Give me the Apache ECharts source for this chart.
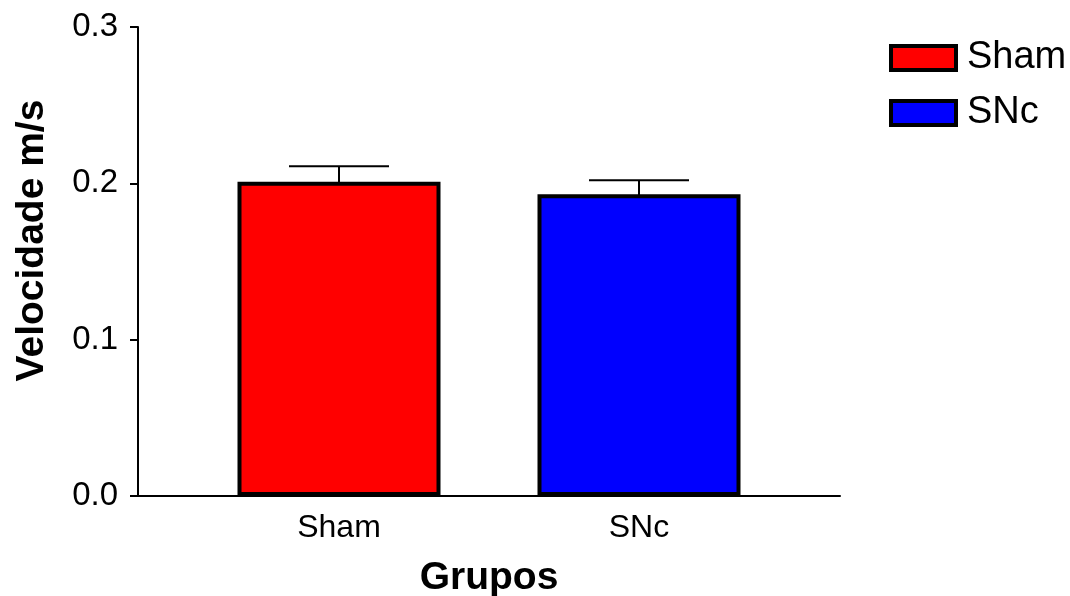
<!DOCTYPE html>
<html>
<head>
<meta charset="utf-8">
<script src="https://cdn.jsdelivr.net/npm/echarts@6/dist/echarts.min.js"></script>
<style>
html,body{margin:0;padding:0;background:#fff;}
#chart{width:1070px;height:596px;}
</style>
</head>
<body>
<div id="chart"></div>
<script>
const categories = ['Sham', 'SNc'];
const means = [0.201, 0.193];
const sems = [0.010, 0.009];
const barColors = ['#ff0000', '#0000ff'];
const yMin = 0, yMax = 0.3, yStep = 0.1;

const FONT = '"Liberation Sans", Arial, sans-serif';
const chart = echarts.init(document.getElementById('chart'), null, {renderer: 'canvas'});

const barSeries = categories.map((c, i) => ({
  name: c,
  type: 'bar',
  barWidth: 203,
  barGap: '-100%',
  data: [[i, means[i]]],
  itemStyle: {color: barColors[i], borderColor: '#000', borderWidth: 4},
  emphasis: {disabled: true},
  z: 2
}));

const errSeries = {
  type: 'custom',
  z: 3,
  silent: true,
  data: categories.map((c, i) => [i, means[i], means[i] + sems[i]]),
  renderItem: function (params, api) {
    const base = api.coord([api.value(0), api.value(1)]);
    const top = api.coord([api.value(0), api.value(2)]);
    const half = 50;
    const style = {stroke: '#000', lineWidth: 2};
    return {
      type: 'group',
      children: [
        {type: 'line', shape: {x1: base[0], y1: base[1] + 1, x2: top[0], y2: top[1]}, style: style},
        {type: 'line', shape: {x1: top[0] - half, y1: top[1], x2: top[0] + half, y2: top[1]}, style: style}
      ]
    };
  }
};

chart.setOption({
  animation: false,
  backgroundColor: '#fff',
  textStyle: {fontFamily: FONT},
  grid: {left: 138, right: 230, top: 27, bottom: 100, containLabel: false, outerBoundsMode: 'none'},
  legend: {
    orient: 'vertical',
    left: 884,
    top: 32,
    itemWidth: 65,
    itemHeight: 24,
    itemGap: 13,
    icon: 'rect',
    selectedMode: false,
    itemStyle: {borderColor: '#000', borderWidth: 4},
    textStyle: {fontSize: 38, color: '#000', fontFamily: FONT, lineHeight: 38, padding: [4, 0, 0, 6]},
    data: categories
  },
  xAxis: {
    type: 'value',
    min: -0.67,
    max: 1.67,
    name: 'Grupos',
    nameLocation: 'middle',
    nameGap: 63,
    nameTextStyle: {fontSize: 39, fontWeight: 'bold', color: '#000', fontFamily: FONT},
    axisLine: {show: true, onZero: false, lineStyle: {color: '#000', width: 2}},
    axisTick: {show: false},
    splitLine: {show: false},
    axisLabel: {
      customValues: [0, 1],
      formatter: v => categories[Math.round(v)],
      fontSize: 32,
      color: '#000',
      margin: 16,
      fontFamily: FONT
    }
  },
  yAxis: {
    type: 'value',
    min: yMin,
    max: yMax,
    interval: yStep,
    name: 'Velocidade m/s',
    nameLocation: 'middle',
    nameGap: 86,
    nameTextStyle: {fontSize: 39, fontWeight: 'bold', color: '#000', fontFamily: FONT, padding: [0, 0, 0, 42]},
    axisLine: {show: true, onZero: false, lineStyle: {color: '#000', width: 2}},
    axisTick: {show: true, length: 8, lineStyle: {color: '#000', width: 2}},
    splitLine: {show: false},
    axisLabel: {
      formatter: v => v.toFixed(1),
      fontSize: 33,
      color: '#000',
      margin: 20,
      padding: [3, 0, 0, 0],
      fontFamily: FONT
    }
  },
  series: barSeries.concat([errSeries])
});
</script>
</body>
</html>
